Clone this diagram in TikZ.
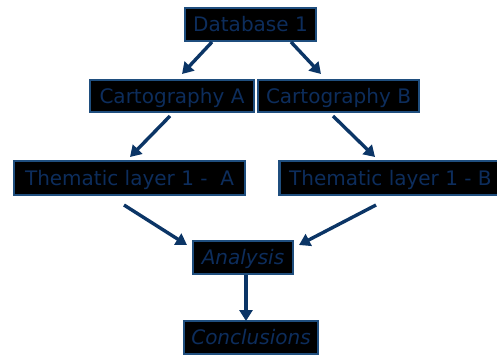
\documentclass[tikz,border=0pt]{standalone}
\usepackage{fontspec}
\setmainfont{DejaVu Sans}
\usetikzlibrary{arrows.meta}
\definecolor{txtblue}{HTML}{0D2D5C}
\definecolor{edgeblue}{HTML}{1F4E7E}
\definecolor{arrblue}{HTML}{0B3566}
\begin{document}
\begin{tikzpicture}[x=1pt,y=-1pt,
  box/.style={draw=edgeblue,line width=2.8pt,fill=black,text=txtblue,inner sep=0pt,
    text height=14.6pt,text depth=0pt,
    font=\fontsize{20}{22}\selectfont},
  conn/.style={draw=arrblue,line width=3.4pt,-{Triangle[length=11pt,width=13pt]}}]
\useasboundingbox (0,0) rectangle (497,356);
\node[box,minimum width=131pt,minimum height=33pt] (db) at (250.5,24.5) {Database 1};
\node[box,minimum width=164pt,minimum height=32pt] (ca) at (172,96) {Cartography A};
\node[box,minimum width=161pt,minimum height=32pt] (cb) at (338.5,96) {Cartography B};
\node[box,minimum width=231pt,minimum height=34pt] (ta) at (129.5,178) {Thematic layer 1 -~~A};
\node[box,minimum width=222pt,minimum height=34pt,anchor=west] (tb) at (278,178) {Thematic layer 1 - B};
\node[box,minimum width=100pt,minimum height=33pt] (an) at (243,257.5) {\itshape Analysis};
\node[box,minimum width=134pt,minimum height=33pt] (co) at (251,337.5) {\itshape Conclusions};
\coordinate (d1) at (212,42);  \coordinate (d2) at (182,74);
\coordinate (d3) at (291,42);  \coordinate (d4) at (321,74);
\coordinate (c1) at (170,116); \coordinate (c2) at (130,157);
\coordinate (c3) at (333,116); \coordinate (c4) at (375,157);
\coordinate (t1) at (124,205); \coordinate (t2) at (187,245);
\coordinate (t3) at (376,205); \coordinate (t4) at (299,245);
\coordinate (a1) at (246,275); \coordinate (a2) at (246,321);
\draw[conn] (d1) -- (d2);
\draw[conn] (d3) -- (d4);
\draw[conn] (c1) -- (c2);
\draw[conn] (c3) -- (c4);
\draw[conn] (t1) -- (t2);
\draw[conn] (t3) -- (t4);
\draw[conn] (a1) -- (a2);
\end{tikzpicture}
\end{document}
